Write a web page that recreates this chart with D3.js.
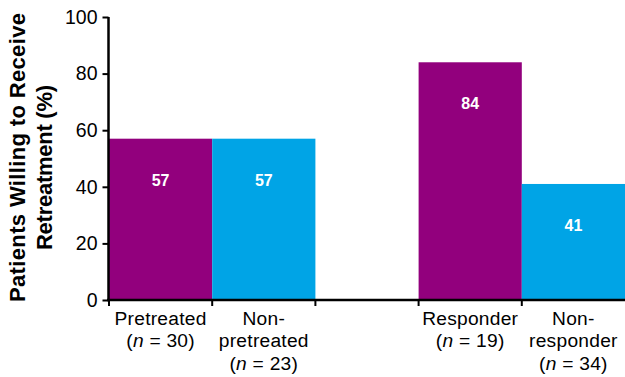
<!DOCTYPE html>
<html><head><meta charset="utf-8">
<script src="https://cdn.jsdelivr.net/npm/d3@7"></script>
<style>body{margin:0;background:#fff}svg{display:block}text{font-family:"Liberation Sans",Arial,sans-serif}</style>
</head><body>
<script>
const slots = ["Pretreated", "Non-pretreated", "gap", "Responder", "Non-responder"];
const categories = ["Pretreated", "Non-pretreated", "Responder", "Non-responder"];
const values = [57, 57, 84, 41];
const groupColors = ["#92007D", "#00A4E6", "#92007D", "#00A4E6"];
const labelLines = [
  [["Pretreated"], ["(", "n", " = 30)"]],
  [["Non-"], ["pretreated"], ["(", "n", " = 23)"]],
  [["Responder"], ["(", "n", " = 19)"]],
  [["Non-"], ["responder"], ["(", "n", " = 34)"]]
];
const yTicks = [0, 20, 40, 60, 80, 100];
const yTitle = ["Patients Willing to Receive", "Retreatment (%)"];

const W = 625, H = 377;
const svg = d3.select("body").append("svg").attr("width", W).attr("height", H);

const y = d3.scaleLinear().domain([0, 100]).range([300, 17]);
const x = d3.scaleBand().domain(slots).range([109, 625]).padding(0);

// bars
svg.selectAll("rect.bar").data(categories).enter().append("rect")
  .attr("x", d => x(d)).attr("width", x.bandwidth())
  .attr("y", (d, i) => y(values[i])).attr("height", (d, i) => y(0) - y(values[i]))
  .attr("fill", (d, i) => groupColors[i]);

// value labels
svg.selectAll("text.val").data(categories).enter().append("text")
  .attr("x", d => x(d) + x.bandwidth() / 2)
  .attr("y", (d, i) => y(values[i]) + 47)
  .attr("text-anchor", "middle").attr("fill", "#fff")
  .attr("font-weight", "bold").attr("font-size", 16)
  .text((d, i) => values[i]);

// y axis
const yAxis = svg.append("g").attr("transform", "translate(108.5,0)")
  .call(d3.axisLeft(y).tickValues(yTicks).tickSize(6).tickPadding(5).tickSizeOuter(0));
yAxis.select(".domain").attr("stroke", "#000").attr("stroke-width", 2.5).attr("d", `M0,${y(100)}V${y(0) + 1}`);
yAxis.selectAll(".tick line").attr("stroke", "#000").attr("stroke-width", 2);
yAxis.selectAll(".tick text").attr("font-size", 19.5).attr("fill", "#000")
  .style("font-family", "'Liberation Sans', Arial, sans-serif");

// x axis
const xAxis = svg.append("g").attr("transform", "translate(0,300)");
xAxis.append("line").attr("x1", 107).attr("x2", 625).attr("y1", 0).attr("y2", 0)
  .attr("stroke", "#000").attr("stroke-width", 2.5);
xAxis.selectAll("line.t").data(slots).enter().append("line")
  .attr("x1", d => x(d)).attr("x2", d => x(d)).attr("y1", 0).attr("y2", 6)
  .attr("stroke", "#000").attr("stroke-width", 2);

// category labels
categories.forEach((c, i) => {
  const t = svg.append("text").attr("text-anchor", "middle").attr("font-size", 19.2)
    .attr("letter-spacing", 0.25).attr("fill", "#000");
  labelLines[i].forEach((parts, j) => {
    const line = t.append("tspan").attr("x", x(c) + x.bandwidth() / 2).attr("y", 324.5 + j * 22.7);
    parts.forEach(p => {
      const s = line.append("tspan").text(p);
      if (p === "n") s.attr("font-style", "italic");
    });
  });
});

// y title
const yt = svg.append("text").attr("transform", "rotate(-90)")
  .attr("text-anchor", "middle").attr("font-weight", "bold").attr("font-size", 22).attr("fill", "#000");
yt.append("tspan").attr("x", -157.5).attr("y", 25).attr("textLength", 289).attr("lengthAdjust", "spacing").text(yTitle[0]);
yt.append("tspan").attr("x", -167.5).attr("y", 52).attr("textLength", 165).attr("lengthAdjust", "spacing").text(yTitle[1]);
</script>
</body></html>
